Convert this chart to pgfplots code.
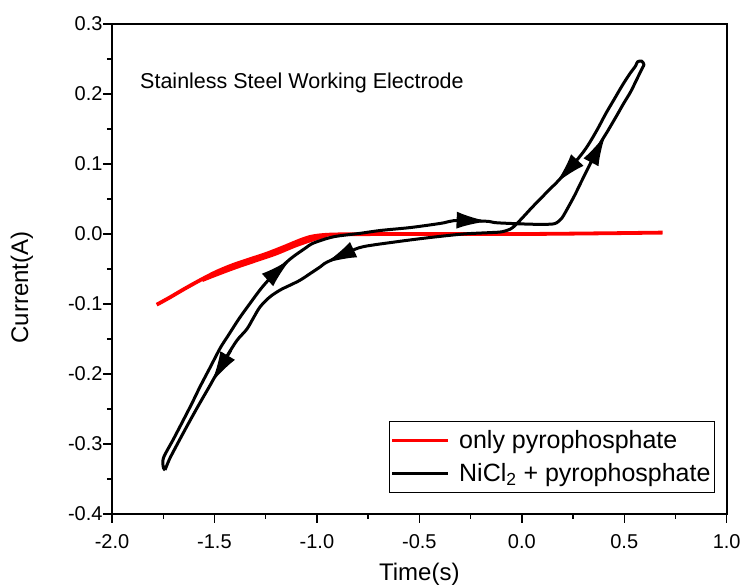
\documentclass[border=0pt]{standalone}
\usepackage{fontspec}
\setmainfont{Liberation Sans}
\usepackage{pgfplots}
\pgfplotsset{compat=1.18}
\usetikzlibrary{arrows.meta}
\begin{document}
\begin{tikzpicture}
\begin{axis}[
  scale only axis, width=614.7pt, height=490pt,
  xmin=-2, xmax=1, ymin=-0.4, ymax=0.3,
  xtick={-2,-1.5,-1,-0.5,0,0.5,1},
  xticklabels={-2.0,-1.5,-1.0,-0.5,0.0,0.5,1.0},
  ytick={-0.4,-0.3,-0.2,-0.1,0,0.1,0.2,0.3},
  yticklabels={-0.4,-0.3,-0.2,-0.1,0.0,0.1,0.2,0.3},
  minor x tick num=1, minor y tick num=1,
  tick align=outside, tick pos=left,
  major tick length=9pt, minor tick length=5pt,
  tick style={line width=1.4pt, black},
  axis line style={line width=1.6pt},
  ticklabel style={font=\fontsize{20}{24}\selectfont},
  xticklabel style={yshift=-8pt},
  yticklabel style={xshift=3pt},
  xlabel={Time(s)}, ylabel={Current(A)},
  label style={font=\fontsize{24}{29}\selectfont},
  xlabel style={at={(axis description cs:0.5,0)}, anchor=base, yshift=-67pt},
  ylabel style={at={(axis description cs:-0.1366,0.462)}, anchor=base},
  legend style={at={(0.981,0.043)}, anchor=south east, draw=black, line width=1pt,
    font=\fontsize{25}{30}\selectfont, inner xsep=1pt, inner ysep=5pt,
    nodes={inner xsep=3pt, inner ysep=4.5pt}, row sep=4pt},
  legend cell align=left,
  legend image code/.code={\draw[#1] (0pt,0pt) -- (56pt,0pt); \path (62pt,0pt);},
  clip=false,
]
% red: only pyrophosphate
\addplot[color=red, line width=3.8pt, smooth, line join=round] coordinates {
(-1.782,-0.101) (-1.72,-0.091) (-1.65,-0.079) (-1.57,-0.066) (-1.49,-0.054)
(-1.407,-0.044) (-1.326,-0.036) (-1.244,-0.028) (-1.165,-0.019) (-1.082,-0.009)
(-1.03,-0.004) (-0.97,-0.0015) (-0.88,-0.0005) (-0.6,0.0) (0.0,0.0) (0.4,0.001) (0.687,0.002)
};
\addlegendentry{only pyrophosphate}
\addplot[color=red, line width=3.8pt, smooth, forget plot] coordinates {
(-0.95,-0.002) (-1.0,-0.006) (-1.1,-0.016) (-1.2,-0.028) (-1.3,-0.038) (-1.4,-0.048) (-1.5,-0.059) (-1.56,-0.066)
};
% black: NiCl2 + pyrophosphate (one continuous loop)
\addplot[black, line width=3pt, smooth, line join=round, forget plot] coordinates {
(-1.741,-0.337) (-1.749,-0.334) (-1.749,-0.320) (-1.70,-0.293) (-1.652,-0.266)
(-1.61,-0.242) (-1.570,-0.218) (-1.52,-0.190) (-1.472,-0.163) (-1.435,-0.146)
(-1.38,-0.121) (-1.326,-0.099) (-1.27,-0.077) (-1.212,-0.058) (-1.155,-0.042)
(-1.114,-0.032) (-1.06,-0.021) (-1.017,-0.013) (-0.919,-0.004)
(-0.788,0.001) (-0.691,0.005) (-0.55,0.009) (-0.447,0.013) (-0.38,0.016)
(-0.333,0.019) (-0.25,0.019) (-0.162,0.018)
(-0.121,0.016) (0.042,0.014) (0.140,0.014) (0.170,0.016)
(0.19,0.021) (0.205,0.027) (0.254,0.053) (0.286,0.072) (0.335,0.101) (0.384,0.130)
(0.417,0.146) (0.465,0.170) (0.498,0.187) (0.531,0.203)
(0.563,0.222) (0.588,0.237) (0.596,0.242) (0.585,0.247) (0.565,0.246)
(0.555,0.240) (0.525,0.228) (0.49,0.212) (0.45,0.192) (0.41,0.172)
(0.37,0.150) (0.33,0.130) (0.30,0.117) (0.25,0.099) (0.20,0.083) (0.165,0.072)
(0.14,0.065) (0.10,0.053) (0.05,0.038) (0.009,0.025)
(-0.03,0.013) (-0.056,0.007) (-0.10,0.003) (-0.153,0.002) (-0.284,0.000)
(-0.447,-0.005) (-0.609,-0.011) (-0.772,-0.018) (-0.84,-0.025) (-0.886,-0.031)
(-0.935,-0.038) (-0.962,-0.042)
(-0.984,-0.047) (-1.03,-0.056) (-1.082,-0.066) (-1.13,-0.073)
(-1.179,-0.080) (-1.23,-0.090) (-1.277,-0.104) (-1.31,-0.120) (-1.342,-0.136)
(-1.39,-0.152) (-1.44,-0.175) (-1.50,-0.205)
(-1.521,-0.216) (-1.58,-0.246) (-1.635,-0.275) (-1.69,-0.305)
(-1.72,-0.322) (-1.741,-0.337)
};
% direction arrows along the loop
\pgfplotsset{arr/.style={black, line width=3pt, forget plot, -{Latex[length=32pt,width=17pt]}}}
\addplot[arr] coordinates {(-0.25,0.019) (-0.162,0.018)};
\addplot[arr] coordinates {(0.335,0.101) (0.41,0.143)};
\addplot[arr] coordinates {(0.25,0.099) (0.165,0.072)};
\addplot[arr] coordinates {(-0.84,-0.025) (-0.962,-0.042)};
\addplot[arr] coordinates {(-1.42,-0.166) (-1.515,-0.213)};
\addplot[arr] coordinates {(-1.212,-0.058) (-1.125,-0.035)};
\addlegendimage{black, line width=3pt}
\addlegendentry{NiCl\textsubscript{2} + pyrophosphate}
\node[anchor=west, inner sep=0pt, font=\fontsize{21.5}{26}\selectfont] at (rel axis cs:0.0456,0.88) {Stainless Steel Working Electrode};
\end{axis}
\pgfresetboundingbox
\useasboundingbox (-112pt,-74pt) rectangle (630pt,514pt);
\end{tikzpicture}
\end{document}
